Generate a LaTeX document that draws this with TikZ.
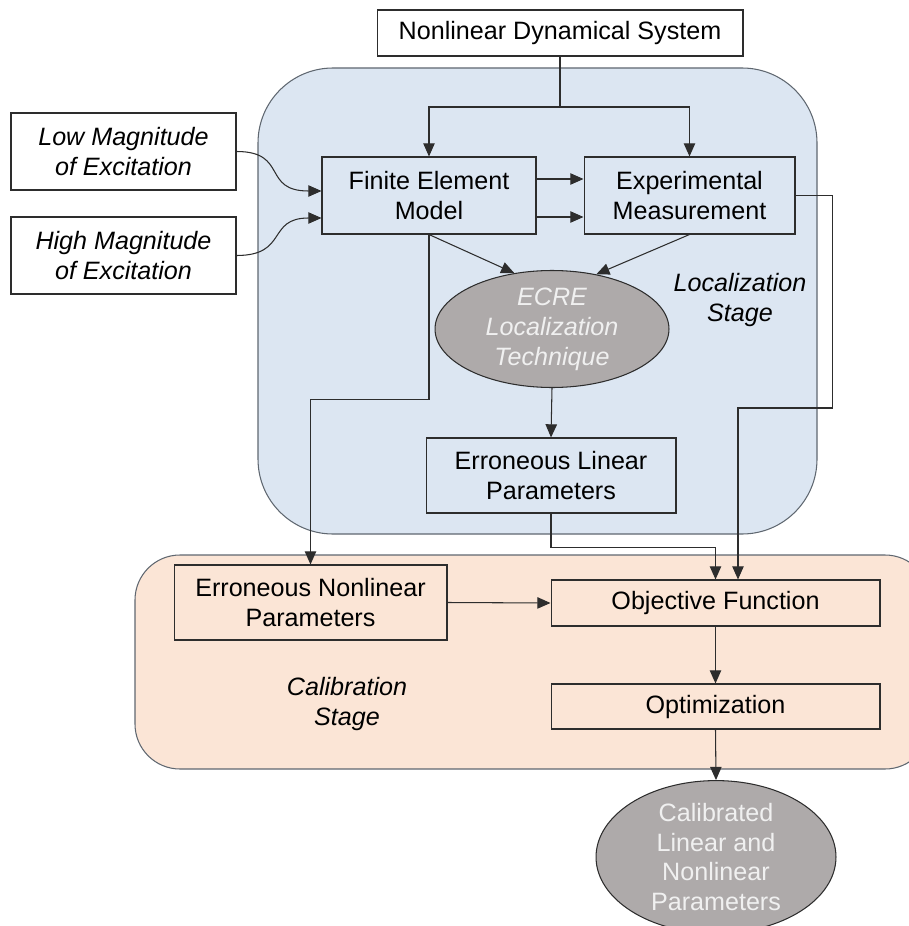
\documentclass[tikz,border=0pt]{standalone}
\usepackage{fontspec}
\setmainfont{Liberation Sans}
\usetikzlibrary{arrows.meta,shapes.geometric,calc}

\definecolor{locblue}{RGB}{220,230,242}
\definecolor{calorange}{RGB}{251,229,214}
\definecolor{ovalgrey}{RGB}{174,170,170}
\definecolor{linegrey}{RGB}{45,45,45}
\definecolor{stagegrey}{RGB}{95,103,112}

\tikzset{
    box/.style={draw=linegrey, line width=0.6pt, inner sep=0pt, align=center,
        font=\fontsize{14.3}{17}\selectfont},
    oval/.style={ellipse, draw=linegrey, fill=ovalgrey, line width=0.6pt,
        inner sep=0pt, align=center, text=white!94!black,
        font=\fontsize{14.3}{17}\selectfont},
    link/.style={draw=linegrey, line width=0.6pt},
    arr/.style={link, -{Triangle[length=7.5pt,width=6.5pt]}},
    stagelabel/.style={align=center, font=\fontsize{14.3}{17}\selectfont\itshape},
}

\begin{document}
\begin{tikzpicture}[x=0.02cm, y=-0.02cm]
    \useasboundingbox (0,0) rectangle (909,926);

    \filldraw[fill=locblue, draw=stagegrey, line width=0.6pt, rounded corners=1.5cm]
        (258,68) rectangle (817,534);
    \filldraw[fill=calorange, draw=stagegrey, line width=0.6pt, rounded corners=0.9cm]
        (135,555) rectangle (930,769);

    \node[box, fill=white, minimum width=7.32cm, minimum height=0.92cm] (nds) at (560,33)
        {Nonlinear Dynamical System};
    \node[box, fill=white, minimum width=4.5cm, minimum height=1.54cm] (low) at (123.5,151.5)
        {\itshape Low Magnitude\\\itshape of Excitation};
    \node[box, fill=white, minimum width=4.5cm, minimum height=1.54cm] (high) at (123.5,255.5)
        {\itshape High Magnitude\\\itshape of Excitation};
    \node[box, minimum width=4.28cm, minimum height=1.54cm] (fe) at (429,195.5)
        {Finite Element\\Model};
    \node[box, minimum width=4.22cm, minimum height=1.54cm] (em) at (689.5,195.5)
        {Experimental\\Measurement};
    \node[oval, minimum width=4.68cm, minimum height=2.34cm] (ecre) at (552,329)
        {\itshape ECRE\\\itshape Localization\\\itshape Technique};
    \node[box, minimum width=5cm, minimum height=1.5cm] (elin) at (551,475.5)
        {Erroneous Linear\\Parameters};
    \node[box, minimum width=5.46cm, minimum height=1.5cm] (enl) at (310.5,602.5)
        {Erroneous Nonlinear\\Parameters};
    \node[box, minimum width=6.58cm, minimum height=0.92cm] (obj) at (715.5,603)
        {Objective Function};
    \node[box, minimum width=6.58cm, minimum height=0.9cm] (opt) at (715.5,706.5)
        {Optimization};
    \node[oval, minimum width=4.8cm, minimum height=2.68cm] (cal) at (716,857)
        {Calibrated\\Linear and\\Nonlinear\\Parameters};

    \node[stagelabel] (locstage) at (740,300) {Localization\\Stage};
    \node[stagelabel] (calstage) at (347,704) {Calibration\\Stage};

    \coordinate (split) at (560,107);
    \draw[link] (nds.south) -- (split);
    \draw[arr] (split) -| (fe.north);
    \draw[arr] (split) -| (em.north);

    \draw[arr] (low.east) .. controls +(52,0) and +(-60,0) .. ($(fe.west)+(0,-4.5)$);
    \draw[arr] (high.east) .. controls +(52,0) and +(-55,0) .. ($(fe.west)+(0,22.5)$);

    \draw[arr] ($(fe.east)+(0,-16.5)$) -- ($(em.west)+(0,-16.5)$);
    \draw[arr] ($(fe.east)+(0,21.5)$) -- ($(em.west)+(0,21.5)$);

    \draw[arr] (fe.south) -- (ecre.124);
    \draw[arr] (em.south) -- (ecre.51);
    \draw[arr] (ecre.south) -- (elin.north);

    \draw[arr] (fe.south) -- ++(0,165) -| (enl.north);
    \draw[arr] (em.east) -| ++(37,212.5) -| ($(obj.north)+(22.5,0)$);
    \draw[arr] (elin.south) -- ++(0,34) -| (obj.north);

    \draw[arr] (enl.east) -- (obj.west);
    \draw[arr] (obj.south) -- (opt.north);
    \draw[arr] (opt.south) -- (cal.north);
\end{tikzpicture}
\end{document}
